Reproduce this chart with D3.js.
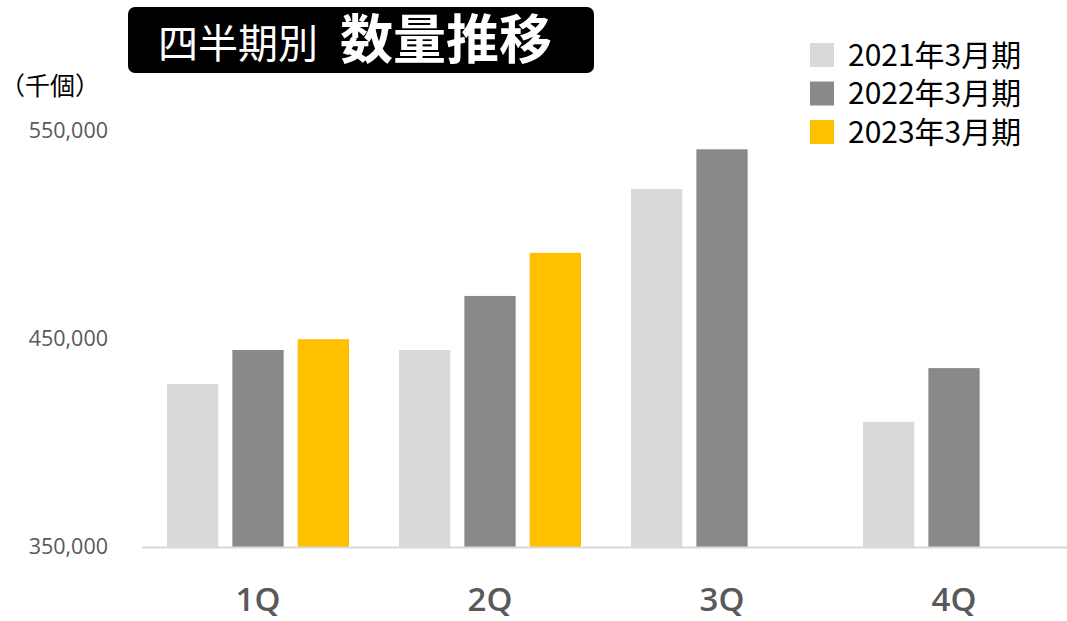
<!DOCTYPE html>
<html lang="ja">
<head>
  <meta charset="UTF-8" />
  <title>四半期別 数量推移</title>
  <script src="https://cdnjs.cloudflare.com/ajax/libs/d3/7.8.2/d3.min.js"></script>
  <style>
    body { margin: 0; padding: 0; background: #fff; }
    svg { display: block; font-family: "Noto Sans CJK JP", "Noto Sans", sans-serif; }
  </style>
</head>
<body>
<svg id="chart" width="1067" height="621"></svg>
<script>
// ---- data ----
const quarters = ["1Q", "2Q", "3Q", "4Q"];
const seriesNames = ["2021年3月期", "2022年3月期", "2023年3月期"];
const fy2021 = [428400, 444700, 522100, 410200];
const fy2022 = [444700, 470700, 541200, 436000];
const fy2023 = [449900, 491400, null, null];
const yTicks = [350000, 450000, 550000];
const colors = ["#d9d9d9", "#898989", "#ffc000"];

const series = [fy2021, fy2022, fy2023];

const svg = d3.select("#chart");

// ---- scales ----
const x = d3.scaleBand().domain(quarters).range([142, 1070]).paddingInner(0).paddingOuter(0);
const xInner = d3.scaleBand().domain(d3.range(series.length))
  .range([25, x.bandwidth() - 25]).paddingInner(0.215);
const y = d3.scaleLinear().domain([350000, 550000]).range([547, 131]);

// ---- bars ----
series.forEach((vals, si) => {
  svg.append("g").selectAll("rect")
    .data(quarters.map((q, i) => ({ q, v: vals[i] })).filter(d => d.v != null))
    .join("rect")
    .attr("x", d => x(d.q) + xInner(si))
    .attr("width", xInner.bandwidth())
    .attr("y", d => y(d.v))
    .attr("height", d => y(350000) - y(d.v))
    .attr("fill", colors[si]);
});

// ---- baseline ----
svg.append("line")
  .attr("x1", 142).attr("x2", 1067)
  .attr("y1", y(350000) + 0.5).attr("y2", y(350000) + 0.5)
  .attr("stroke", "#d9d9d9").attr("stroke-width", 2);

// ---- y tick labels ----
const yAxis = svg.append("g")
  .attr("transform", "translate(108,0)")
  .call(d3.axisLeft(y).tickValues(yTicks).tickSize(0).tickPadding(0)
    .tickFormat(d3.format(",")));
yAxis.select(".domain").remove();
yAxis.selectAll("text")
  .attr("fill", "#595959")
  .style("font-family", "'Open Sans', 'Noto Sans', sans-serif")
  .style("font-size", "21.5px");

// ---- x labels ----
const xAxis = svg.append("g")
  .attr("transform", "translate(0,588)")
  .call(d3.axisBottom(x).tickSize(0).tickPadding(0));
xAxis.select(".domain").remove();
xAxis.selectAll("text")
  .attr("fill", "#595959")
  .attr("dy", "0.71em")
  .style("font-family", "'Open Sans', 'Noto Sans', sans-serif")
  .style("font-weight", "600")
  .style("font-size", "33px");

// ---- unit label ----
svg.append("text")
  .attr("x", 0).attr("y", 95)
  .attr("fill", "#000")
  .style("font-size", "25px")
  .text("（千個）");

// ---- title box ----
svg.append("rect")
  .attr("x", 128).attr("y", 7)
  .attr("width", 466).attr("height", 66)
  .attr("rx", 7)
  .attr("fill", "#000");
svg.append("text")
  .attr("x", 158).attr("y", 58)
  .attr("fill", "#fff")
  .style("font-size", "40px")
  .style("font-weight", "400")
  .text("四半期別");
svg.append("text")
  .attr("x", 340).attr("y", 59)
  .attr("fill", "#fff")
  .style("font-size", "53px")
  .style("font-weight", "700")
  .text("数量推移");

// ---- legend ----
const legend = svg.append("g").selectAll("g")
  .data(seriesNames)
  .join("g")
  .attr("transform", (d, i) => `translate(810,${55 + i * 38.5})`);
legend.append("rect")
  .attr("x", 0).attr("y", -12)
  .attr("width", 24).attr("height", 24)
  .attr("fill", (d, i) => colors[i]);
legend.append("text")
  .attr("x", 38).attr("y", 0)
  .attr("dy", "0.35em")
  .attr("fill", "#000")
  .style("font-size", "30px")
  .text(d => d);
</script>
</body>
</html>
